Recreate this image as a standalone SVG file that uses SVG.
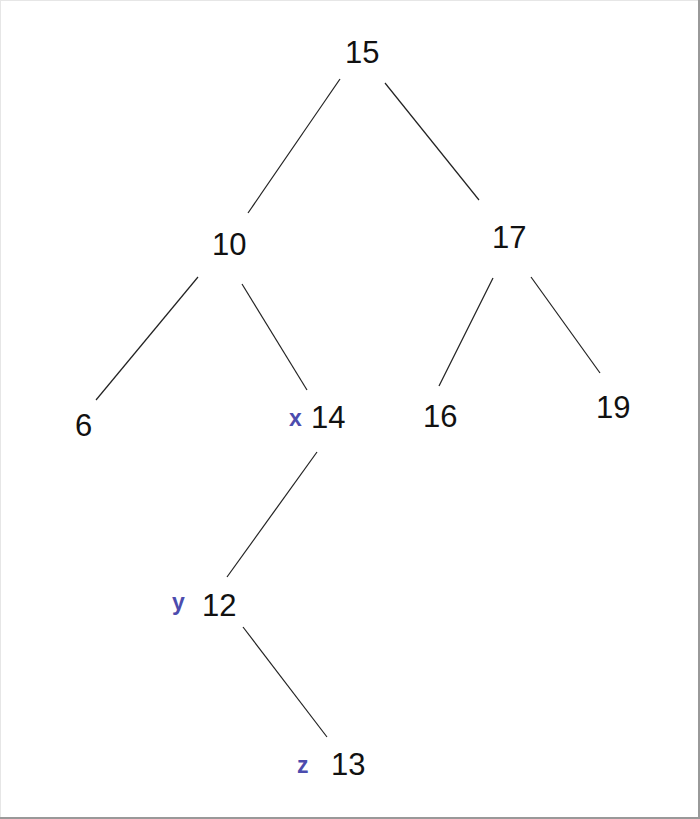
<svg xmlns="http://www.w3.org/2000/svg" width="700" height="819" viewBox="0 0 700 819">
<style>
.n{font-family:"Liberation Sans",Arial,sans-serif;font-size:31px;fill:#111}
.l{font-family:"Liberation Sans",Arial,sans-serif;font-size:23px;font-weight:bold;fill:#4c4cae}
.e{stroke:#222;stroke-width:1.2;fill:none}
</style>
<rect x="0" y="0" width="700" height="819" fill="#fff"/>
<g id="frame">
<line x1="0" y1="0.5" x2="700" y2="0.5" stroke="#e6e6e6" stroke-width="1"/>
<line x1="0.5" y1="0" x2="0.5" y2="819" stroke="#e6e6e6" stroke-width="1"/>
<line x1="699" y1="0" x2="699" y2="819" stroke="#999" stroke-width="2"/>
<line x1="0" y1="818" x2="700" y2="818" stroke="#999" stroke-width="2"/>
</g>
<g id="connectors">
<line class="e" x1="340" y1="79" x2="248" y2="213"/>
<line class="e" x1="385" y1="83" x2="479" y2="200"/>
<line class="e" x1="198" y1="277" x2="96" y2="400"/>
<line class="e" x1="242" y1="284" x2="307" y2="390"/>
<line class="e" x1="493" y1="278" x2="439" y2="386"/>
<line class="e" x1="531" y1="277" x2="600" y2="373"/>
<line class="e" x1="317" y1="452" x2="227" y2="577"/>
<line class="e" x1="243" y1="627" x2="327" y2="737"/>
</g>
<g id="n15"><text class="n" x="345" y="63">15</text></g>
<g id="n10"><text class="n" x="212" y="255">10</text></g>
<g id="n17"><text class="n" x="492" y="248">17</text></g>
<g id="n6"><text class="n" x="75" y="436">6</text></g>
<g id="n14"><text class="l" x="289" y="426">x</text><text class="n" x="311" y="428">14</text></g>
<g id="n16"><text class="n" x="423" y="427">16</text></g>
<g id="n19"><text class="n" x="596" y="418">19</text></g>
<g id="n12"><text class="l" x="172" y="610">y</text><text class="n" x="202" y="616">12</text></g>
<g id="n13"><text class="l" x="297" y="773">z</text><text class="n" x="331" y="775">13</text></g>
</svg>
